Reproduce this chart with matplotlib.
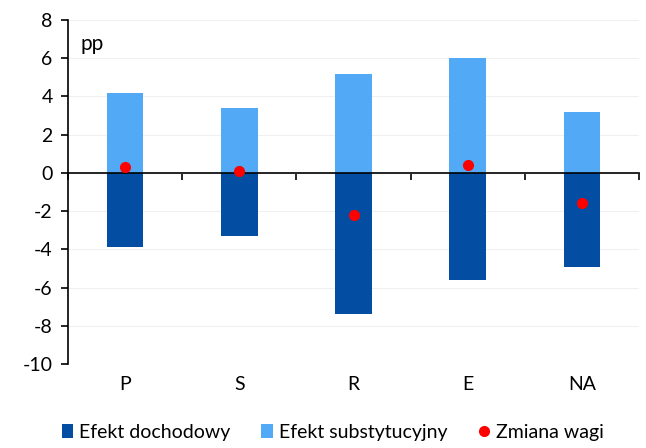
import matplotlib
matplotlib.use("Agg")
import matplotlib.pyplot as plt
from matplotlib.transforms import blended_transform_factory
import numpy as np

plt.rcParams["font.family"] = ["Lato", "DejaVu Sans"]
plt.rcParams["axes.unicode_minus"] = False

categories = ["P", "S", "R", "E", "NA"]
income_effect = [-3.9, -3.3, -7.4, -5.6, -4.9]
substitution_effect = [4.2, 3.4, 5.2, 6.0, 3.2]
weight_change = [0.3, 0.1, -2.2, 0.4, -1.6]

DARK = "#034EA2"
LIGHT = "#52A9F5"
RED = "#FF0000"

fig = plt.figure(figsize=(6.46, 4.48), dpi=100)
ax = fig.add_axes([68 / 646, 1 - 364 / 448, (639 - 68) / 646, (364 - 20) / 448])

x = np.arange(len(categories))
b1 = ax.bar(x, income_effect, width=0.32, color=DARK, label="Efekt dochodowy", zorder=2)
b2 = ax.bar(x, substitution_effect, width=0.32, color=LIGHT, label="Efekt substytucyjny", zorder=2)
(p1,) = ax.plot(x, weight_change, "o", color=RED, markersize=7, label="Zmiana wagi", zorder=4)

ax.set_xlim(-0.5, len(categories) - 0.5)
ax.set_ylim(-10, 8)
ax.set_yticks(range(-10, 9, 2))
ax.yaxis.grid(True, color="#f0f0f0", linewidth=0.8, zorder=0)
ax.set_axisbelow(True)

for s in ["top", "right"]:
    ax.spines[s].set_visible(False)
ax.spines["bottom"].set_position(("data", 0))
ax.spines["bottom"].set_zorder(3)
ax.spines["bottom"].set_linewidth(1.2)
ax.spines["left"].set_linewidth(1.2)

ax.set_xticks(np.arange(-0.5, len(categories), 1))
ax.set_xticklabels([])
ax.tick_params(axis="x", direction="out", length=5, width=1.2)
ax.tick_params(axis="y", direction="out", length=5, width=1.2, labelsize=14, pad=6)

trans = blended_transform_factory(ax.transData, ax.transAxes)
for xi, c in zip(x, categories):
    ax.text(xi, -0.06, c, transform=trans, ha="center", va="center", fontsize=14)

ax.text(0.022, 0.96, "pp", transform=ax.transAxes, fontsize=15, va="top")

fig.legend([b1, b2, p1], ["Efekt dochodowy", "Efekt substytucyjny", "Zmiana wagi"],
           loc="center", bbox_to_anchor=(0.515, 0.035), ncol=3, frameon=False,
           fontsize=14, handlelength=0.6, handleheight=0.7, handletextpad=0.3,
           columnspacing=1.6)

fig.savefig("out.png", dpi=100)
